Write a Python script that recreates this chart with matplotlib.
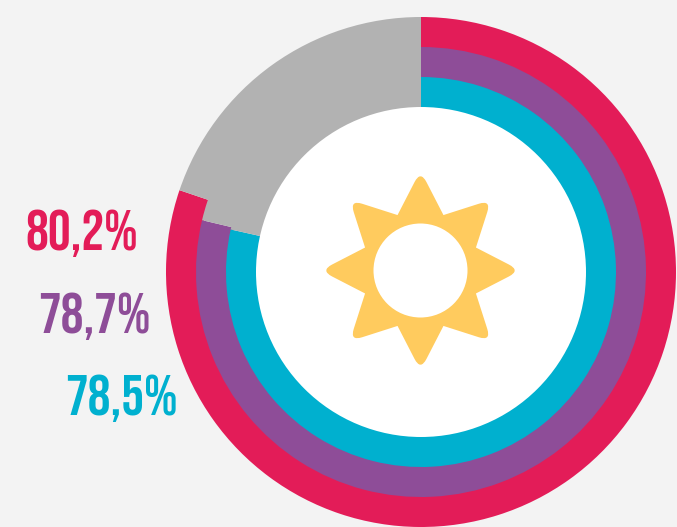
import numpy as np
import matplotlib.pyplot as plt
from matplotlib.path import Path
from matplotlib.patches import PathPatch, Circle

# Data
labels = ['80,2%', '78,7%', '78,5%']
values = [80.2, 78.7, 78.5]
colors = ['#E31C58', '#8E4D98', '#00B0CF']
radii = [255, 225, 195]
label_right = [138, 151, 178]
label_base = [250, 333, 415]

bg = '#F3F3F3'
grey = '#B2B2B2'
sun_color = '#FFCB5E'
H = 527
cx, cy = 421, H - 272
sx, sy = 420.5, H - 270.5

plt.rcParams['font.family'] = ['Bebas Neue', 'DejaVu Sans']

fig = plt.figure(figsize=(6.77, 5.27), dpi=100, facecolor=bg)
ax = fig.add_axes([0, 0, 1, 1])
ax.set_facecolor(bg)

# Rings, one pie per ring, clockwise from the top
# width is a bit over 30 so the next ring covers the seam
for val, col, r in zip(values, colors, radii):
    ax.pie([val, 100 - val], colors=[col, grey], startangle=90, counterclock=False,
           radius=r, center=(cx, cy), wedgeprops=dict(width=32, linewidth=0))

ax.add_patch(Circle((cx, cy), 165, fc='white', ec='none', zorder=3))

# Sun with rounded tips
tip_r, inner_r, d = 100, 60, 13
verts, codes = [], []
for k in range(8):
    a = np.pi / 2 - k * np.pi / 4
    tip = np.array([np.cos(a), np.sin(a)]) * tip_r
    b = a - np.pi / 8
    inner = np.array([np.cos(b), np.sin(b)]) * inner_r
    b0 = a + np.pi / 8
    prev = np.array([np.cos(b0), np.sin(b0)]) * inner_r
    u1 = (prev - tip) / np.linalg.norm(prev - tip)
    u2 = (inner - tip) / np.linalg.norm(inner - tip)
    verts += [tip + u1 * d, tip, tip + u2 * d, inner]
    codes += [Path.MOVETO if k == 0 else Path.LINETO, Path.CURVE3, Path.CURVE3, Path.LINETO]
verts.append(verts[0])
codes.append(Path.CLOSEPOLY)
verts = np.array(verts) + [sx, sy]
ax.add_patch(PathPatch(Path(verts, codes), fc=sun_color, ec='none', zorder=4))
ax.add_patch(Circle((sx, sy), 47, fc='white', ec='none', zorder=5))

for lab, col, xr, yb in zip(labels, colors, label_right, label_base):
    ax.text(xr, H - yb, lab, color=col, fontsize=41, ha='right', va='baseline', zorder=6)

ax.set_xlim(0, 677)
ax.set_ylim(0, H)
ax.set_aspect('equal')
ax.axis('off')

fig.savefig('out.png', dpi=100, facecolor=bg)
